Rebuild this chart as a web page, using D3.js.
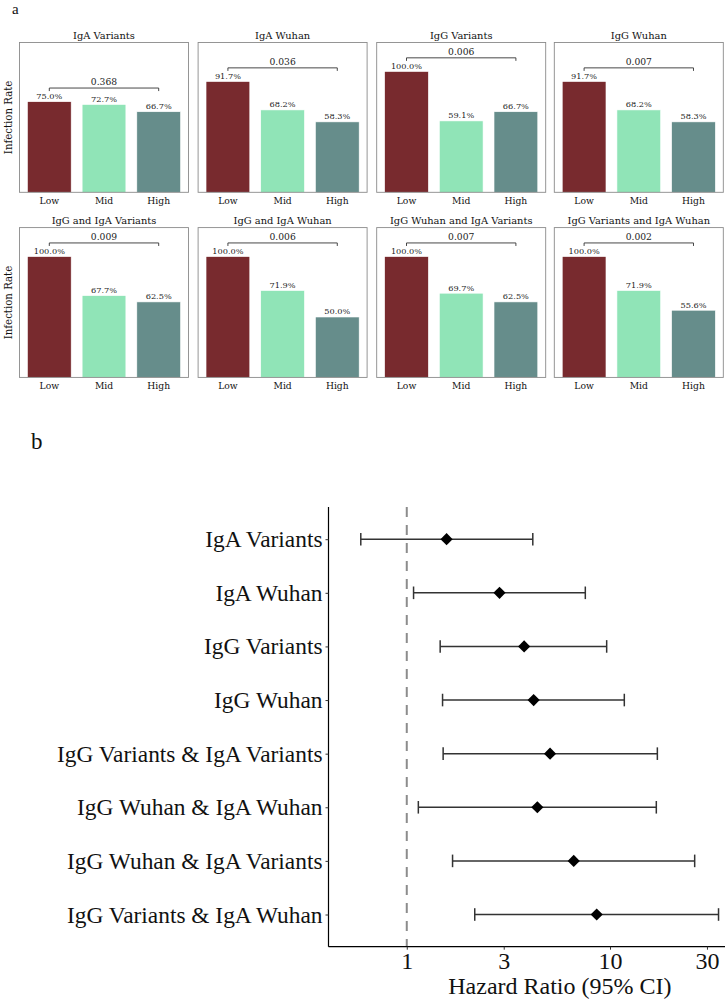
<!DOCTYPE html>
<html>
<head>
<meta charset="utf-8">
<script src="https://cdn.jsdelivr.net/npm/d3@7"></script>
<style>
  html, body { margin: 0; padding: 0; background: #fff; }
  svg { display: block; }
</style>
</head>
<body>
<script>
// ---------------- DATA ----------------
const panelTitles = ["IgA Variants", "IgA Wuhan", "IgG Variants", "IgG Wuhan",
  "IgG and IgA Variants", "IgG and IgA Wuhan", "IgG Wuhan and IgA Variants", "IgG Variants and IgA Wuhan"];
const groups = ["Low", "Mid", "High"];
const lowRates  = [75.0, 91.7, 100.0, 91.7, 100.0, 100.0, 100.0, 100.0];
const midRates  = [72.7, 68.2, 59.1, 68.2, 67.7, 71.9, 69.7, 71.9];
const highRates = [66.7, 58.3, 66.7, 58.3, 62.5, 50.0, 62.5, 55.6];
const pValues   = ["0.368", "0.036", "0.006", "0.007", "0.009", "0.006", "0.007", "0.002"];
const groupColors = ["#782a2e", "#90e4b7", "#668d8b"];

const forestLabels = ["IgA Variants", "IgA Wuhan", "IgG Variants", "IgG Wuhan",
  "IgG Variants & IgA Variants", "IgG Wuhan & IgA Wuhan", "IgG Wuhan & IgA Variants", "IgG Variants & IgA Wuhan"];
const hazardRatio = [1.57, 2.86, 3.78, 4.21, 5.07, 4.39, 6.63, 8.60];
const ciLower     = [0.594, 1.08, 1.46, 1.50, 1.51, 1.14, 1.68, 2.16];
const ciUpper     = [4.17, 7.56, 9.63, 11.76, 17.1, 16.9, 26.1, 34.2];
const hrTicks     = [1, 3, 10, 30];

// ---------------- SETUP ----------------
const W = 727, H = 1001;
const svg = d3.select("body").append("svg").attr("width", W).attr("height", H);
const serifA = "'DejaVu Serif', serif";
const serifB = "'Liberation Serif', 'Times New Roman', serif";

svg.append("text").attr("x", 12).attr("y", 14).attr("font-family", serifB)
  .attr("font-size", 15).attr("fill", "#111").text("a");
svg.append("text").attr("x", 31).attr("y", 449).attr("font-family", serifB)
  .attr("font-size", 23).attr("fill", "#111").text("b");

// ---------------- PANEL A ----------------
const pW = 169, pH = 149.8;
const colX = [19.5, 198.1, 376.7, 554.3];
const rowY = [42.5, 227.6];

panelTitles.forEach((title, i) => {
  const x0 = colX[i % 4], y0 = rowY[Math.floor(i / 4)];
  const g = svg.append("g").attr("transform", `translate(${x0},${y0})`);
  const vals = [lowRates[i], midRates[i], highRates[i]].map(v => v / 100);
  const x = d3.scaleLinear().domain([-0.545, 2.545]).range([0, pW]);
  const y = d3.scaleLinear().domain([0, 1.24]).range([pH, 0]);
  const bw = x(0.8) - x(0);

  g.selectAll("rect.bar").data(vals).join("rect")
    .attr("class", "bar")
    .attr("x", (d, j) => x(j) - bw / 2)
    .attr("width", bw)
    .attr("y", d => y(d))
    .attr("height", d => y(0) - y(d))
    .attr("fill", (d, j) => groupColors[j])
    .attr("stroke", "#fff").attr("stroke-width", 0.6);

  g.selectAll("text.val").data(vals).join("text")
    .attr("class", "val")
    .attr("x", (d, j) => x(j)).attr("y", d => y(d) - 2.6)
    .attr("text-anchor", "middle").attr("font-family", serifA).attr("font-size", 8.2)
    .attr("fill", "#222")
    .text(d => (d * 100).toFixed(1) + "%");

  // bracket
  const maxV = d3.max(vals);
  const by = y(maxV + 0.113);
  const tk = y(maxV + 0.113 - 0.025) - by;
  g.append("path")
    .attr("d", `M${x(0)},${by + tk}V${by}H${x(2)}V${by + tk}`)
    .attr("fill", "none").attr("stroke", "#333").attr("stroke-width", 0.9);
  g.append("text").attr("x", x(1)).attr("y", by - 2.6)
    .attr("text-anchor", "middle").attr("font-family", serifA).attr("font-size", 9.2)
    .attr("fill", "#222").text(pValues[i]);

  // frame
  g.append("rect").attr("x", 0).attr("y", 0).attr("width", pW).attr("height", pH)
    .attr("fill", "none").attr("stroke", "#8a8a8a").attr("stroke-width", 0.9);

  // title
  g.append("text").attr("x", pW / 2).attr("y", -3.5).attr("text-anchor", "middle")
    .attr("font-family", serifA).attr("font-size", 9.9).attr("fill", "#111").text(title);

  // x tick labels
  g.selectAll("text.tick").data(groups).join("text")
    .attr("class", "tick")
    .attr("x", (d, j) => x(j)).attr("y", pH + 11.8)
    .attr("text-anchor", "middle").attr("font-family", serifA).attr("font-size", 9.2)
    .attr("fill", "#111").text(d => d);

  if (i % 4 === 0) {
    g.append("text")
      .attr("transform", `translate(${-7.5},${pH / 2}) rotate(-90)`)
      .attr("text-anchor", "middle").attr("font-family", serifA).attr("font-size", 10.2)
      .attr("fill", "#111").text("Infection Rate");
  }
});

// ---------------- PANEL B ----------------
const fx = d3.scaleLog().domain([0.412, 36.8]).range([328.5, 725]);
const fy = d3.scalePoint().domain(forestLabels).range([539.2, 914.5]);
const fTop = 507, fBottom = 946.7;

// reference dashed line
svg.append("line").attr("x1", fx(1)).attr("x2", fx(1)).attr("y1", fTop).attr("y2", fBottom)
  .attr("stroke", "#8c8c8c").attr("stroke-width", 2).attr("stroke-dasharray", "10,8");

// error bars
const fg = svg.append("g");
forestLabels.forEach((lab, i) => {
  const yy = fy(lab);
  fg.append("line").attr("x1", fx(ciLower[i])).attr("x2", fx(ciUpper[i]))
    .attr("y1", yy).attr("y2", yy).attr("stroke", "#333").attr("stroke-width", 1.5);
  [ciLower[i], ciUpper[i]].forEach(v => {
    fg.append("line").attr("x1", fx(v)).attr("x2", fx(v))
      .attr("y1", yy - 6.3).attr("y2", yy + 6.3).attr("stroke", "#333").attr("stroke-width", 1.5);
  });
  fg.append("path").attr("d", d3.symbol().type(d3.symbolSquare).size(74)())
    .attr("transform", `translate(${fx(hazardRatio[i])},${yy}) rotate(45)`)
    .attr("fill", "#000");
});

// axes
const xAxis = d3.axisBottom(fx).tickValues(hrTicks).tickFormat(d3.format("d")).tickSize(3).tickSizeOuter(0);
const gx = svg.append("g").attr("transform", `translate(0,${fBottom})`).call(xAxis);
gx.select(".domain").attr("d", `M${fx.range()[0]},0H${fx.range()[1]}`).attr("stroke", "#000").attr("stroke-width", 1.2);
gx.selectAll(".tick line").attr("stroke", "#333");
gx.selectAll(".tick text").attr("font-family", serifB).attr("font-size", 24)
  .attr("fill", "#111").attr("dy", null).attr("y", 22.5);

const yAxis = d3.axisLeft(fy).tickSize(3).tickSizeOuter(0);
const gy = svg.append("g").attr("transform", `translate(${fx.range()[0]},0)`).call(yAxis);
gy.select(".domain").attr("d", `M0,${fTop}V${fBottom}`).attr("stroke", "#000").attr("stroke-width", 1.2);
gy.selectAll(".tick line").attr("stroke", "#333");
gy.selectAll(".tick text").attr("font-family", serifB).attr("font-size", 23.4)
  .attr("fill", "#111").attr("x", -6);

svg.append("text").attr("x", (fx(1.0) + fx(36.8)) / 2 - 6).attr("y", 994)
  .attr("text-anchor", "middle").attr("font-family", serifB).attr("font-size", 24)
  .attr("fill", "#111").text("Hazard Ratio (95% CI)");
</script>
</body>
</html>
